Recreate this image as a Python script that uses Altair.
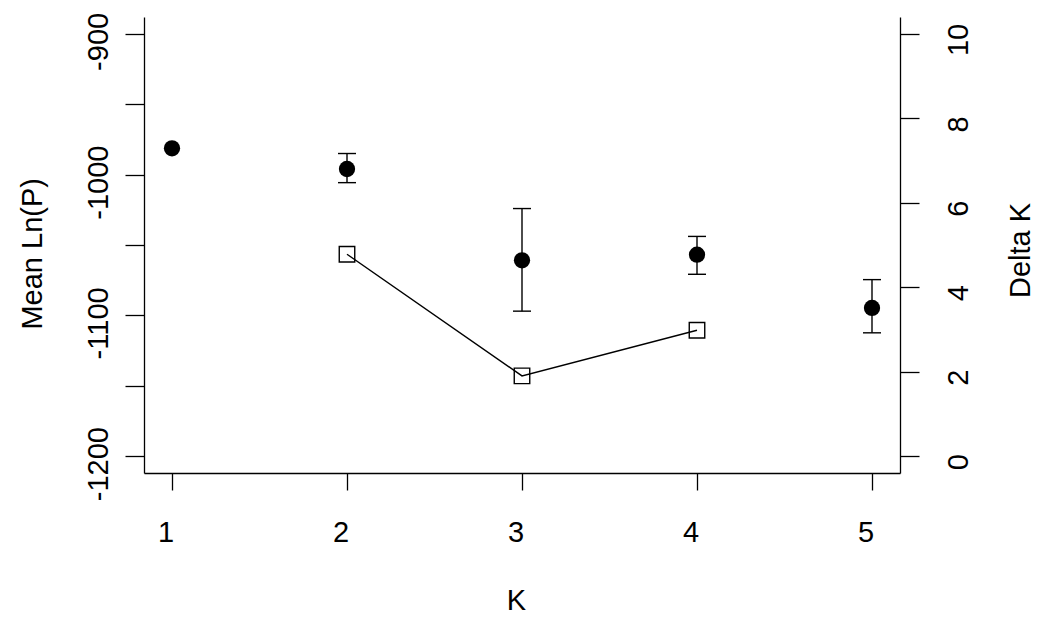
import altair as alt
import pandas as pd

# ---- data ----
K = [1, 2, 3, 4, 5]
mean_lnp = [-981.3, -996.0, -1060.9, -1056.9, -1094.7]
lnp_lo = [-981.3, -1005.7, -1097.0, -1070.8, -1112.4]
lnp_hi = [-981.3, -985.0, -1024.1, -1043.9, -1074.6]

K_delta = [2, 3, 4]
delta_k = [4.78, 1.90, 2.98]

x_ticks = [1, 2, 3, 4, 5]
left_ticks = [-1200, -1150, -1100, -1050, -1000, -950, -900]
right_ticks = [0, 2, 4, 6, 8, 10]

FONT = "Liberation Sans"
FS = 29

df = pd.DataFrame({"K": K, "lnp": mean_lnp, "lo": lnp_lo, "hi": lnp_hi})
dk = pd.DataFrame({"K": K_delta, "dk": delta_k})

xscale = alt.Scale(domain=[0.84, 5.16], nice=False, zero=False)
lscale = alt.Scale(domain=[-1212, -888], nice=False, zero=False)
rscale = alt.Scale(domain=[-0.4, 10.4], nice=False, zero=False)

xaxis = alt.Axis(
    values=x_ticks, format="d", title="K",
    tickSize=17, labelPadding=51.5, labelBaseline="alphabetic",
    labelOffset=-6.5, labelOverlap=False, labelFlush=False,
    titleX=372, titleY=136.5, titleBaseline="alphabetic", titleAlign="center",
)
laxis = alt.Axis(
    values=left_ticks, orient="left", title="Mean Ln(P)",
    labelExpr="datum.value % 100 == 0 ? toString(datum.value) : ''",
    tickSize=19, labelAngle=270, labelAlign="center", labelBaseline="alphabetic",
    labelPadding=17.5, labelOffset=7.5, labelOverlap=False, labelFlush=False,
    titleAngle=270, titleX=-102.3, titleY=236.3, titleBaseline="alphabetic",
    titleAlign="center",
)
raxis = alt.Axis(
    values=right_ticks, orient="right", title="Delta K",
    labelExpr="toString(datum.value)",
    tickSize=19, labelAngle=270, labelAlign="center", labelBaseline="alphabetic",
    labelPadding=48, labelOffset=5.5, labelOverlap=False, labelFlush=False,
    titleAngle=270, titleX=129.5, titleY=233, titleBaseline="alphabetic",
    titleAlign="center",
)

X = alt.X("K:Q", scale=xscale, axis=xaxis)

rules = alt.Chart(df).transform_filter("datum.hi > datum.lo").mark_rule(
    color="black", strokeWidth=1.4
).encode(x=X, y=alt.Y("lo:Q", scale=lscale, axis=laxis), y2="hi:Q")

caps = alt.Chart(df).transform_filter("datum.hi > datum.lo").transform_fold(
    ["lo", "hi"], as_=["end", "val"]
).mark_tick(orient="horizontal", size=18, thickness=1.4, color="black", opacity=1).encode(
    x=X, y=alt.Y("val:Q", scale=lscale, axis=laxis)
)

points = alt.Chart(df).mark_circle(size=265, color="black", opacity=1).encode(
    x=X, y=alt.Y("lnp:Q", scale=lscale, axis=laxis)
)

line = alt.Chart(dk).mark_line(color="black", strokeWidth=1.4).encode(
    x=X, y=alt.Y("dk:Q", scale=rscale, axis=raxis)
)
squares = alt.Chart(dk).mark_point(
    shape="square", size=240, filled=False, color="black", strokeWidth=1.4, opacity=1
).encode(x=X, y=alt.Y("dk:Q", scale=rscale, axis=raxis))

left = alt.layer(rules, caps, points)
right = alt.layer(line, squares)

chart = alt.layer(left, right).resolve_scale(y="independent").properties(
    width=756, height=456,
    padding={"left": 136, "top": 9, "right": 136, "bottom": 144},
    autosize=alt.AutoSizeParams(type="none"),
).configure_view(stroke=None).configure_axis(
    grid=False,
    domainColor="black", domainWidth=1.3,
    tickColor="black", tickWidth=1.3,
    labelColor="black", titleColor="black",
    labelFont=FONT, labelFontSize=FS,
    titleFont=FONT, titleFontSize=FS, titleFontWeight="normal",
)

chart.save("out.html", embed_options={"renderer": "svg", "actions": False})
